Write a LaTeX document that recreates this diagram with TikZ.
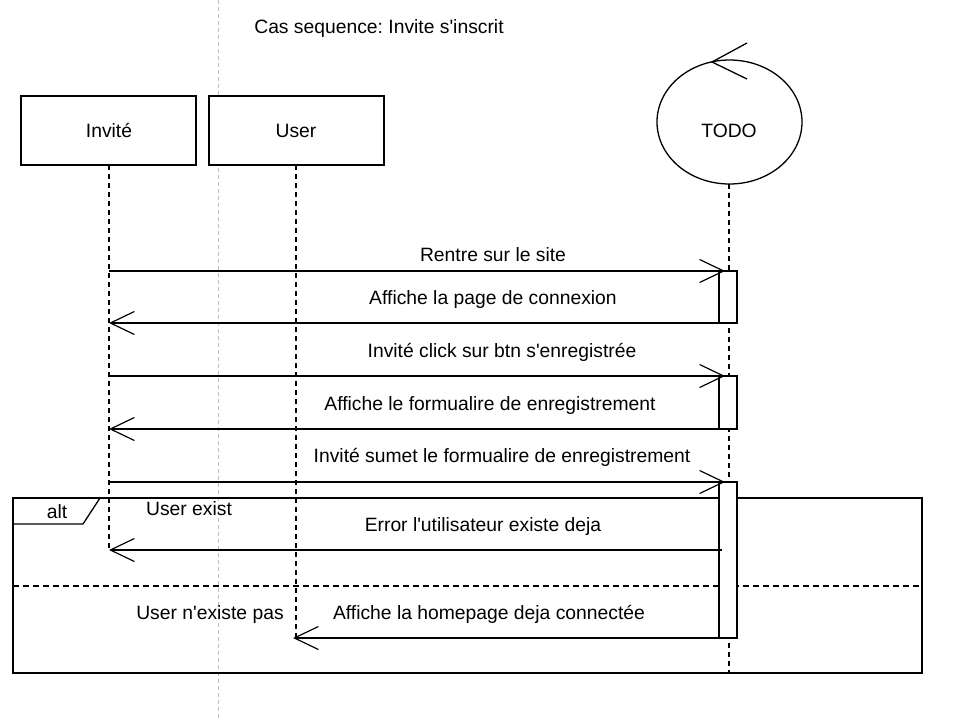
\documentclass[tikz,border=0pt]{standalone}
\usepackage{fontspec}
\setmainfont{Liberation Sans}
\usetikzlibrary{arrows.meta,shapes.geometric}
\newcommand{\sq}{\textquotesingle}
\begin{document}
\frenchspacing
\begin{tikzpicture}[x=1pt,y=-1pt,
  every node/.style={font=\fontsize{19.3}{21}\selectfont, inner sep=0pt},
  actor/.style={draw, line width=1.3pt, fill=white, minimum width=175pt, minimum height=69pt},
  life/.style={line width=1.2pt, dash pattern=on 5pt off 4pt},
  guide/.style={gray!50, line width=0.8pt, dash pattern=on 4pt off 3pt},
  act/.style={draw, line width=1.3pt, fill=white, minimum width=18pt},
  msg/.style={line width=1.2pt, -{Straight Barb[length=24pt,width=23pt,line width=1.2pt]}},
  lbl/.style={anchor=base},
  frame/.style={line width=1.3pt}
]
\useasboundingbox (0,0) rectangle (959,720);
% guide line
\coordinate (gtop) at (218,0);
\coordinate (gbot) at (218,720);
\draw[guide] (gtop) -- (gbot);
% title
\node[lbl] (title) at (379,33.5) {Cas sequence: Invite s\sq inscrit};
% lifelines
\coordinate (inv0) at (109,165);
\coordinate (inv1) at (109,550);
\coordinate (usr0) at (296,165);
\coordinate (usr1) at (296,640);
\coordinate (todo0) at (729,184);
\coordinate (todo1) at (729,672);
\draw[life] (inv0) -- (inv1);
\draw[life] (usr0) -- (usr1);
\draw[life] (todo0) -- (todo1);
% actors
\node[actor] (invite) at (108.5,130.5) {};
\node[lbl] (invitetxt) at (109,137) {Invité};
\node[actor] (user) at (296.5,130.5) {};
\node[lbl] (usertxt) at (296,137) {User};
\node[draw, line width=1.3pt, ellipse, minimum width=145pt, minimum height=124pt] (todo) at (729.5,122) {};
\node[lbl] (todotxt) at (729,137) {TODO};
\coordinate (ctip) at (712,62);
\coordinate (cb1) at (747,43);
\coordinate (cb2) at (747,79);
\draw[line width=1.3pt] (cb1) -- (ctip) -- (cb2);
% alt frame
\coordinate (fa) at (13,498);
\coordinate (fb) at (922,673);
\draw[frame] (fa) rectangle (fb);
\coordinate (pa) at (100,498);
\coordinate (pb) at (83,524);
\coordinate (pc) at (13,524);
\draw[frame] (pa) -- (pb) -- (pc);
\node[lbl] (alt) at (57,518.5) {alt};
\coordinate (sepa) at (13,586);
\coordinate (sepb) at (922,586);
\draw[line width=1.2pt, dash pattern=on 6pt off 4pt] (sepa) -- (sepb);
\node[lbl] (guard1) at (189,515.5) {User exist};
\node[lbl] (guard2) at (210,619.5) {User n\sq existe pas};
% activations
\node[act, minimum height=52pt] (a1) at (728,297) {};
\node[act, minimum height=53pt] (a2) at (728,402.5) {};
\node[act, minimum height=156pt] (a3) at (728,560) {};
% message endpoints
\coordinate (m1s) at (109,271);
\coordinate (m1e) at (725,271);
\coordinate (m2s) at (719,323);
\coordinate (m2e) at (109,323);
\coordinate (m3s) at (109,376);
\coordinate (m3e) at (725,376);
\coordinate (m4s) at (719,429);
\coordinate (m4e) at (109,429);
\coordinate (m5s) at (109,482);
\coordinate (m5e) at (725,482);
\coordinate (m6s) at (722,550);
\coordinate (m6e) at (109,550);
\coordinate (m7s) at (719,638);
\coordinate (m7e) at (293,638);
\draw[msg] (m1s) -- (m1e);
\draw[msg] (m2s) -- (m2e);
\draw[msg] (m3s) -- (m3e);
\draw[msg] (m4s) -- (m4e);
\draw[msg] (m5s) -- (m5e);
\draw[msg] (m6s) -- (m6e);
\draw[msg] (m7s) -- (m7e);
% labels
\node[lbl] (t1) at (493,261) {Rentre sur le site};
\node[lbl] (t2) at (493,304.5) {Affiche la page de connexion};
\node[lbl] (t3) at (502,357.5) {Invité click sur btn s\sq enregistrée};
\node[lbl] (t4) at (490,410.5) {Affiche le formualire de enregistrement};
\node[lbl] (t5) at (502,462.5) {Invité sumet le formualire de enregistrement};
\node[lbl] (t6) at (483,531.5) {Error l\sq utilisateur existe deja};
\node[lbl] (t7) at (489,619.5) {Affiche la homepage deja connectée};
\end{tikzpicture}
\end{document}
